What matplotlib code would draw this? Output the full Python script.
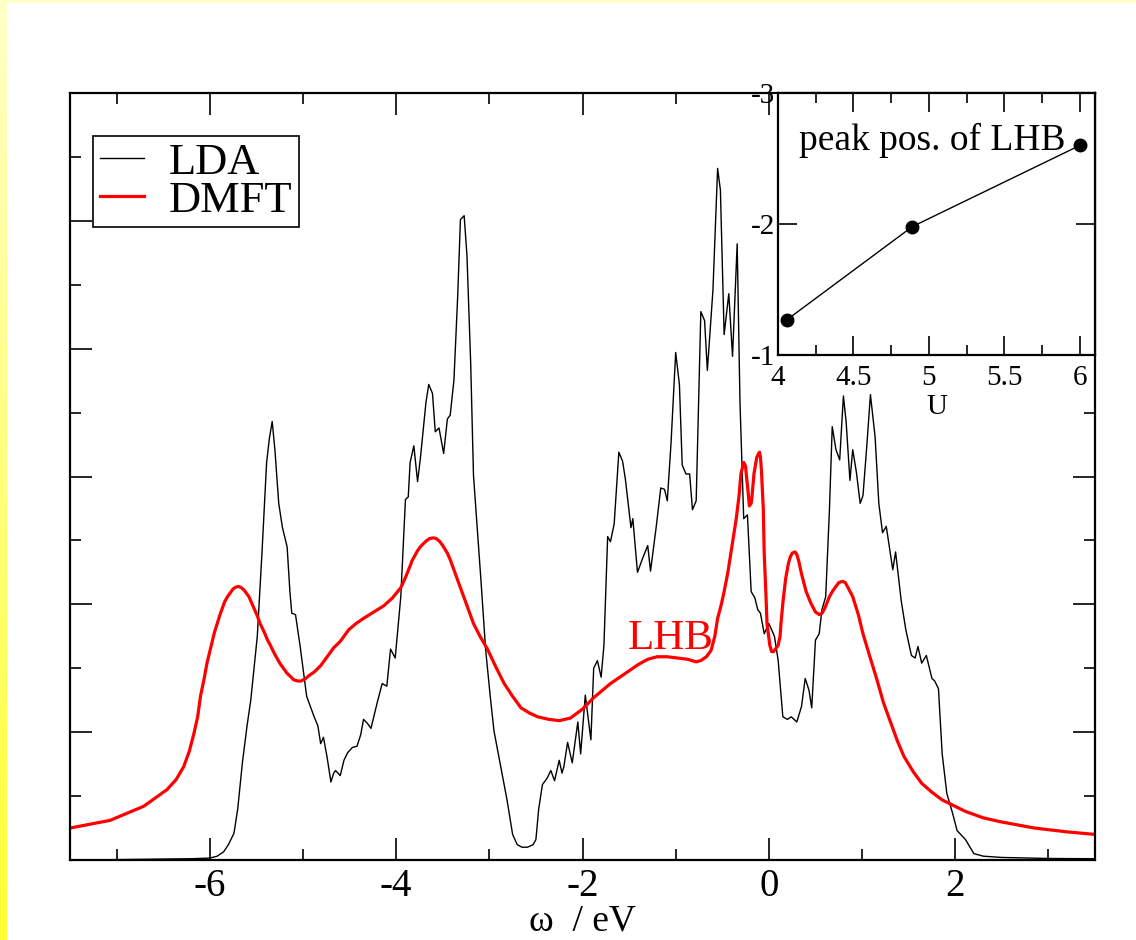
"""LDA vs DMFT spectral function with LHB peak-position inset."""
import matplotlib
matplotlib.use("Agg")
import matplotlib.pyplot as plt
import numpy as np
from matplotlib.patches import Rectangle
from matplotlib.ticker import MultipleLocator

plt.rcParams["font.family"] = ["Liberation Serif", "DejaVu Serif"]

# LDA spectral function
lda_w = [-7.5, -7.0, -6.5, -6.2, -6.0, -5.92, -5.85, -5.80, -5.74, -5.70,
         -5.65, -5.60, -5.56, -5.49, -5.44, -5.39, -5.36, -5.33, -5.30, -5.26,
         -5.22, -5.17, -5.14, -5.12, -5.08, -5.03, -4.96, -4.92, -4.88, -4.84,
         -4.81, -4.78, -4.74, -4.70, -4.67, -4.65, -4.60, -4.56, -4.52, -4.47,
         -4.42, -4.38, -4.35, -4.31, -4.27, -4.20, -4.15, -4.10, -4.06, -4.01,
         -3.95, -3.90, -3.87, -3.85, -3.81, -3.77, -3.74, -3.68, -3.65, -3.61,
         -3.58, -3.54, -3.49, -3.45, -3.42, -3.38, -3.34, -3.31, -3.27, -3.24,
         -3.20, -3.17, -3.09, -3.04, -2.99, -2.95, -2.88, -2.81, -2.75, -2.70,
         -2.65, -2.59, -2.53, -2.50, -2.47, -2.43, -2.38, -2.34, -2.30, -2.25,
         -2.22, -2.20, -2.16, -2.11, -2.05, -2.02, -1.97, -1.91, -1.88, -1.84,
         -1.80, -1.77, -1.73, -1.70, -1.66, -1.61, -1.57, -1.54, -1.48, -1.46,
         -1.41, -1.36, -1.30, -1.27, -1.21, -1.16, -1.12, -1.09, -1.05, -1.00,
         -0.96, -0.93, -0.89, -0.85, -0.82, -0.78, -0.73, -0.69, -0.66, -0.60,
         -0.55, -0.52, -0.48, -0.43, -0.39, -0.34, -0.31, -0.27, -0.23, -0.19,
         -0.15, -0.12, -0.09, -0.05, 0.00, 0.06, 0.10, 0.15, 0.20, 0.24,
         0.30, 0.35, 0.39, 0.43, 0.46, 0.50, 0.54, 0.57, 0.61, 0.65,
         0.68, 0.72, 0.76, 0.80, 0.83, 0.87, 0.90, 0.94, 0.98, 1.01,
         1.05, 1.09, 1.14, 1.18, 1.22, 1.26, 1.33, 1.36, 1.42, 1.47,
         1.53, 1.57, 1.60, 1.64, 1.69, 1.75, 1.78, 1.82, 1.86, 1.91,
         1.97, 2.02, 2.11, 2.20, 2.30, 2.50, 3.00, 3.50]
lda_dos = [0.0, 0.003, 0.007, 0.010, 0.015, 0.03, 0.065, 0.12, 0.21, 0.40,
           0.76, 1.05, 1.25, 1.75, 2.40, 3.11, 3.30, 3.43, 3.20, 2.79,
           2.60, 2.45, 2.10, 1.93, 1.92, 1.67, 1.28, 1.20, 1.12, 1.05,
           0.91, 0.96, 0.80, 0.61, 0.68, 0.70, 0.66, 0.78, 0.84, 0.88,
           0.89, 0.98, 1.10, 1.07, 1.03, 1.24, 1.38, 1.36, 1.65, 1.58,
           2.06, 2.82, 2.84, 3.11, 3.24, 2.96, 3.14, 3.58, 3.72, 3.65,
           3.35, 3.38, 3.18, 3.45, 3.48, 3.75, 4.40, 5.01, 5.04, 4.73,
           3.89, 3.01, 2.19, 1.65, 1.28, 1.01, 0.74, 0.47, 0.20, 0.12,
           0.10, 0.10, 0.12, 0.16, 0.40, 0.59, 0.64, 0.70, 0.62, 0.78,
           0.68, 0.73, 0.92, 0.76, 1.08, 0.83, 1.29, 0.94, 1.50, 1.56,
           1.43, 1.68, 2.53, 2.49, 2.63, 3.19, 3.12, 2.98, 2.60, 2.67,
           2.25, 2.35, 2.46, 2.26, 2.60, 2.91, 2.90, 2.81, 3.26, 3.97,
           3.72, 3.09, 3.02, 3.02, 2.74, 2.81, 4.29, 4.22, 3.83, 4.46,
           5.41, 5.24, 4.11, 4.43, 3.94, 4.82, 3.58, 2.67, 2.70, 2.10,
           2.05, 1.96, 1.93, 1.77, 1.85, 1.75, 1.56, 1.12, 1.10, 1.12,
           1.08, 1.20, 1.42, 1.33, 1.19, 1.72, 1.77, 1.96, 2.06, 2.74,
           3.39, 3.21, 3.13, 3.63, 3.42, 2.97, 3.21, 3.03, 2.79, 2.85,
           3.23, 3.64, 3.31, 2.79, 2.56, 2.61, 2.27, 2.41, 2.03, 1.80,
           1.60, 1.58, 1.67, 1.54, 1.60, 1.42, 1.40, 1.34, 0.83, 0.52,
           0.37, 0.23, 0.16, 0.05, 0.03, 0.02, 0.012, 0.01]

# DMFT spectral function
dmft_w = [-7.5, -7.07, -6.71, -6.46, -6.36, -6.28, -6.22, -6.17, -6.13, -6.10,
          -6.06, -6.03, -6.00, -5.97, -5.95, -5.92, -5.89, -5.86, -5.84, -5.81,
          -5.78, -5.75, -5.72, -5.69, -5.66, -5.63, -5.61, -5.58, -5.55, -5.52,
          -5.49, -5.46, -5.42, -5.38, -5.35, -5.31, -5.28, -5.24, -5.21, -5.17,
          -5.14, -5.10, -5.08, -5.05, -5.02, -4.97, -4.94, -4.88, -4.81, -4.74,
          -4.67, -4.60, -4.51, -4.43, -4.35, -4.24, -4.13, -4.04, -3.95, -3.90,
          -3.85, -3.83, -3.80, -3.77, -3.74, -3.70, -3.67, -3.64, -3.60, -3.57,
          -3.53, -3.50, -3.45, -3.42, -3.38, -3.35, -3.31, -3.24, -3.17, -3.10,
          -3.02, -2.93, -2.84, -2.75, -2.66, -2.57, -2.48, -2.36, -2.25, -2.13,
          -2.00, -1.88, -1.70, -1.52, -1.40, -1.30, -1.20, -1.09, -0.98, -0.87,
          -0.78, -0.73, -0.67, -0.62, -0.58, -0.55, -0.51, -0.48, -0.44, -0.41,
          -0.38, -0.35, -0.32, -0.30, -0.28, -0.27, -0.25, -0.24, -0.22, -0.21,
          -0.19, -0.18, -0.16, -0.14, -0.13, -0.11, -0.10, -0.09, -0.08, -0.06,
          -0.05, -0.03, -0.02, 0.01, 0.03, 0.05, 0.07, 0.10, 0.12, 0.13,
          0.15, 0.18, 0.21, 0.23, 0.25, 0.28, 0.30, 0.32, 0.35, 0.40,
          0.45, 0.50, 0.54, 0.57, 0.60, 0.65, 0.69, 0.72, 0.75, 0.79,
          0.82, 0.85, 0.90, 0.96, 1.01, 1.08, 1.16, 1.23, 1.31, 1.38,
          1.45, 1.55, 1.64, 1.75, 1.86, 2.00, 2.11, 2.30, 2.48, 2.85,
          3.20, 3.50]
dmft_dos = [0.25, 0.31, 0.42, 0.55, 0.63, 0.73, 0.85, 0.99, 1.12, 1.28,
            1.42, 1.54, 1.63, 1.72, 1.78, 1.85, 1.92, 1.98, 2.02, 2.06,
            2.09, 2.12, 2.135, 2.14, 2.13, 2.11, 2.09, 2.06, 2.01, 1.96,
            1.91, 1.85, 1.79, 1.72, 1.68, 1.62, 1.58, 1.53, 1.50, 1.46,
            1.44, 1.41, 1.405, 1.40, 1.40, 1.42, 1.44, 1.47, 1.52, 1.59,
            1.66, 1.71, 1.80, 1.85, 1.89, 1.94, 1.99, 2.05, 2.13, 2.21,
            2.30, 2.34, 2.38, 2.42, 2.45, 2.48, 2.50, 2.515, 2.52, 2.515,
            2.49, 2.46, 2.40, 2.35, 2.27, 2.21, 2.13, 1.99, 1.85, 1.75,
            1.65, 1.51, 1.38, 1.28, 1.19, 1.15, 1.12, 1.10, 1.09, 1.11,
            1.18, 1.27, 1.38, 1.47, 1.53, 1.57, 1.59, 1.59, 1.58, 1.57,
            1.55, 1.56, 1.59, 1.64, 1.75, 1.89, 2.00, 2.10, 2.25, 2.39,
            2.53, 2.67, 2.85, 3.02, 3.08, 3.11, 3.08, 3.00, 2.86, 2.77,
            2.79, 2.85, 3.02, 3.11, 3.15, 3.18, 3.19, 3.15, 3.05, 2.75,
            2.40, 2.05, 1.85, 1.68, 1.63, 1.63, 1.65, 1.68, 1.75, 1.85,
            2.01, 2.20, 2.32, 2.37, 2.40, 2.41, 2.39, 2.34, 2.24, 2.10,
            2.01, 1.94, 1.92, 1.93, 1.97, 2.06, 2.11, 2.14, 2.17, 2.18,
            2.17, 2.13, 2.06, 1.92, 1.77, 1.60, 1.41, 1.23, 1.07, 0.93,
            0.81, 0.69, 0.60, 0.53, 0.47, 0.42, 0.38, 0.33, 0.30, 0.25,
            0.22, 0.20]

# inset: LHB peak position vs U
u_vals = [4.06, 4.89, 6.0]
lhb_peak = [-1.27, -1.98, -2.60]

W, H = 1136, 940
fig = plt.figure(figsize=(W / 100, H / 100), dpi=100)

# yellow slide border (left strip with gradient, thin top strip)
bg = fig.add_axes([0, 0, 7 / W, 1])
grad = np.linspace(0, 1, 256)[:, None]
cols = np.array([1.0, 1.0, 0.78]) * (1 - grad)[..., None] + np.array([1.0, 1.0, 0.2]) * grad[..., None]
bg.imshow(cols, aspect="auto", extent=[0, 1, 0, 1], origin="upper")
bg.axis("off")
fig.add_artist(Rectangle((0, 1 - 3 / H), 1, 3 / H, transform=fig.transFigure,
                         color="#ffffcc", lw=0))

ax = fig.add_axes([70 / W, 1 - 860 / H, 1025 / W, 767 / H])
ax.plot(lda_w, lda_dos, color="black", lw=1.0, label="LDA")
ax.plot(dmft_w, dmft_dos, color="red", lw=2.3, label="DMFT")
ax.set_xlim(-7.5, 3.5)
ax.set_ylim(0, 6)
ax.xaxis.set_major_locator(MultipleLocator(2))
ax.xaxis.set_minor_locator(MultipleLocator(1))
ax.yaxis.set_major_locator(MultipleLocator(1))
ax.yaxis.set_minor_locator(MultipleLocator(0.5))
ax.tick_params(which="both", direction="in", top=True, right=True,
               labelleft=False, labelsize=28, width=1.2, pad=6)
ax.tick_params(which="major", length=16)
ax.tick_params(which="minor", length=8)
for s in ax.spines.values():
    s.set_linewidth(1.6)
ax.set_xticks([-6, -4, -2, 0, 2])
ax.set_xticklabels(["-6", "-4", "-2", "0", "2"])
ax.set_xlabel("ω  / eV", fontsize=27, labelpad=-1)
ax.text(-1.05, 1.73, "LHB", color="red", fontsize=31, ha="center", va="center")

leg = ax.legend(loc="upper left", bbox_to_anchor=(23 / 1025, 1 - 43 / 767),
                borderaxespad=0, fontsize=32, frameon=True, fancybox=False,
                framealpha=1, edgecolor="black", handlelength=1.0,
                handletextpad=0.55, labelspacing=-0.05, borderpad=0.15)
leg.get_frame().set_linewidth(1.2)

# inset
ins = fig.add_axes([778 / W, 1 - 355 / H, 317 / W, 262 / H])
ins.plot(u_vals, lhb_peak, color="black", lw=1.0, marker="o", markersize=9)
ins.set_xlim(4, 6.1)
ins.set_ylim(-1, -3)
ins.xaxis.set_minor_locator(MultipleLocator(0.25))
ins.set_xticks([4, 4.5, 5, 5.5, 6])
ins.set_xticklabels(["4", "4.5", "5", "5.5", "6"])
ins.set_yticks([-1, -2, -3])
ins.set_yticklabels(["-1", "-2", "-3"])
ins.tick_params(which="both", direction="in", top=True, right=True,
                labelsize=21, width=1.2)
ins.tick_params(axis="x", pad=7)
ins.tick_params(axis="y", pad=2)
ins.tick_params(which="major", length=14)
ins.tick_params(which="minor", length=7)
for s in ins.spines.values():
    s.set_linewidth(1.6)
ins.set_xlabel("U", fontsize=21, labelpad=2)
ins.text(5.02, -2.64, "peak pos. of LHB", fontsize=27, ha="center", va="center")

fig.savefig("out.png", dpi=100)
